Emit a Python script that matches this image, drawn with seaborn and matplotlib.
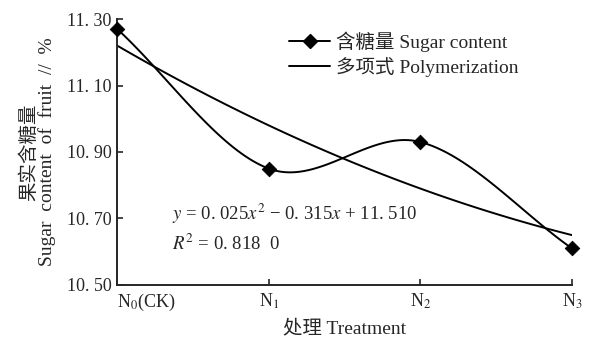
import numpy as np
import pandas as pd
import matplotlib
matplotlib.use('Agg')
import matplotlib.pyplot as plt
from matplotlib.lines import Line2D
import seaborn as sns

# --- datos ---
treatments = ['N$_0$(CK)', 'N$_1$', 'N$_2$', 'N$_3$']
x_pos = [1, 2, 3, 4]
sugar = [11.27, 10.85, 10.93, 10.61]
poly_coef = [0.025, -0.315, 11.510]   # y = a x^2 + b x + c
r2 = '0. 818  0'
y_ticks = [10.50, 10.70, 10.90, 11.10, 11.30]


def smooth(xs, ys, n=40):
    # curva suave tipo Catmull-Rom que pasa por los puntos (como la de Excel)
    xs = np.asarray(xs, float)
    ys = np.asarray(ys, float)
    px = np.concatenate([[2 * xs[0] - xs[1]], xs, [2 * xs[-1] - xs[-2]]])
    py = np.concatenate([[2 * ys[0] - ys[1]], ys, [2 * ys[-1] - ys[-2]]])
    ox, oy = [], []
    t = np.linspace(0, 1, n)
    for i in range(1, len(px) - 2):
        for p, out in ((px, ox), (py, oy)):
            p0, p1, p2, p3 = p[i - 1], p[i], p[i + 1], p[i + 2]
            out.extend(0.5 * (2 * p1 + (-p0 + p2) * t
                              + (2 * p0 - 5 * p1 + 4 * p2 - p3) * t ** 2
                              + (-p0 + 3 * p1 - 3 * p2 + p3) * t ** 3))
    return np.array(ox), np.array(oy)


sns.set_style('ticks')
plt.rcParams['font.family'] = ['Liberation Serif', 'Noto Sans CJK SC']
plt.rcParams['mathtext.fontset'] = 'stix'

fig = plt.figure(figsize=(5.92, 3.40), dpi=100)
ax = fig.add_axes([0.198, 0.162, 0.768, 0.782])

sx, sy = smooth(x_pos, sugar)
sns.lineplot(x=sx, y=sy, ax=ax, color='black', linewidth=1.4, sort=False)
sns.scatterplot(x=x_pos, y=sugar, ax=ax, marker='D', s=55, color='black',
                edgecolor='black', zorder=5, clip_on=False)

fx = np.linspace(1, 4, 100)
sns.lineplot(x=fx, y=np.polyval(poly_coef, fx), ax=ax, color='black', linewidth=1.4)

ax.set_xlim(1, 4)
ax.set_ylim(10.50, 11.30)
ax.set_xticks(x_pos)
ax.set_xticklabels(treatments, fontsize=13)
ax.get_xticklabels()[0].set_horizontalalignment('left')
ax.set_yticks(y_ticks)
ax.set_yticklabels([f'{v:.2f}'.replace('.', '. ') for v in y_ticks], fontsize=13)
ax.tick_params(direction='in', length=4, width=1.2, pad=4)
ax.tick_params(axis='x', pad=5)
sns.despine(ax=ax)
for s in ('left', 'bottom'):
    ax.spines[s].set_linewidth(1.4)

ax.set_xlabel('处理 Treatment', fontsize=14, labelpad=5)
ax.set_ylabel('果实含糖量\nSugar  content  of  fruit  //  %', fontsize=14, labelpad=8,
              linespacing=0.95)

ax.text(1.363, 10.715, r'$y$ = 0. 025$x^2$ − 0. 315$x$ + 11. 510', fontsize=13.5,
        va='center')
ax.text(1.363, 10.625, r'$R^2$ = ' + r2, fontsize=13.5, va='center')

handles = [
    Line2D([], [], color='black', lw=1.4, marker='D', markersize=7),
    Line2D([], [], color='black', lw=1.4),
]
ax.legend(handles, ['含糖量 Sugar content', '多项式 Polymerization'],
          loc='upper left', bbox_to_anchor=(0.34, 1.018), frameon=False,
          fontsize=14, handlelength=2.1, handletextpad=0.3, labelspacing=0.25)

fig.savefig('out.png', dpi=100, facecolor='white')
